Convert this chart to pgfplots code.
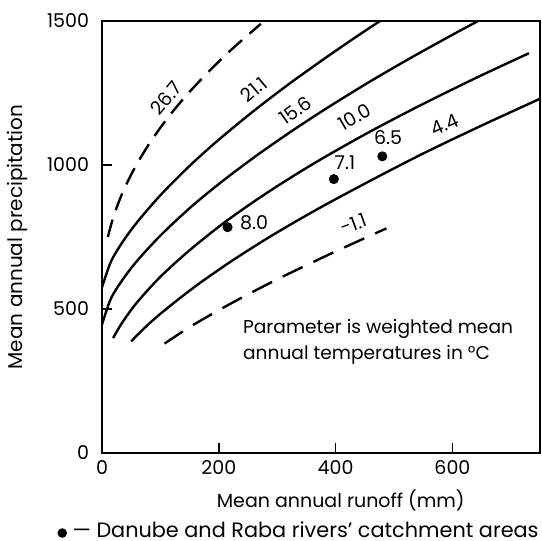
\documentclass[border=0pt]{standalone}
\usepackage{pgfplots}
\pgfplotsset{compat=1.18}
\usepackage{fontspec}
\setmainfont{Poppins}
\tikzset{lab/.style={font=\fontsize{9.5}{11}\selectfont}}
\begin{document}
\begin{tikzpicture}
\begin{axis}[
  scale only axis,
  width=219pt, height=216pt,
  xmin=0, xmax=750, ymin=0, ymax=1500,
  xtick={0,200,400,600}, ytick={0,500,1000,1500},
  xtick pos=bottom, ytick pos=left,
  tick align=inside, major tick length=5pt,
  axis line style={line width=0.8pt},
  tick style={line width=0.8pt, black},
  /pgf/number format/assume math mode=true,
  /pgf/number format/1000 sep={},
  ticklabel style={font=\fontsize{9.5}{11}\selectfont},
  yticklabel style={xshift=-3pt},
  xlabel={Mean annual runoff (mm)},
  ylabel={Mean annual precipitation},
  xlabel style={font=\fontsize{9.5}{11}\selectfont, at={(ticklabel cs:0.545)}, anchor=north, yshift=-1pt},
  ylabel style={font=\fontsize{10}{12}\selectfont, yshift=3pt},
  curve/.style={black, line width=1.2pt, smooth, tension=0.5},
]
% 26.7
\addplot[curve, dash pattern=on 9pt off 5pt] coordinates {(10,750) (20,823) (35,903) (55,986) (80,1071) (110,1157) (145,1243) (185,1329) (225,1407) (272,1490)};
% 21.1
\addplot[curve] coordinates {(0,575) (15,663) (35,732) (60,801) (100,895) (150,997) (200,1088) (260,1188) (320,1281) (380,1368) (430,1438) (476,1500)};
% 15.6
\addplot[curve] coordinates {(0,446) (15,535) (35,601) (60,667) (100,755) (150,850) (200,934) (260,1026) (320,1111) (380,1191) (450,1279) (520,1362) (590,1441) (644,1500)};
% 10.0
\addplot[curve] coordinates {(19,399) (35,454) (60,523) (100,612) (150,704) (210,801) (280,900) (360,1002) (450,1106) (540,1202) (640,1302) (731,1388)};
% 4.4
\addplot[curve] coordinates {(50,388) (80,448) (110,500) (160,579) (220,664) (290,754) (370,848) (460,946) (550,1040) (650,1137) (750,1230)};
% -1.1
\addplot[curve, dash pattern=on 11pt off 6pt] coordinates {(107,380) (150,437) (200,496) (250,551) (300,603) (350,652) (400,700) (450,746) (487,780)};
% catchment areas
\addplot[only marks, black, mark=*, mark size=2.3pt] coordinates {(215,784) (397,951) (480,1030)};

\node[lab, rotate=50] at (axis cs:110,1232) {26.7};
\node[lab, rotate=40] at (axis cs:260,1262) {21.1};
\node[lab, rotate=35] at (axis cs:331,1190) {15.6};
\node[lab, rotate=30] at (axis cs:433,1167) {10.0};
\node[lab, rotate=24] at (axis cs:587,1140) {4.4};
\node[lab, rotate=20] at (axis cs:431,795) {-1.1};
\node[lab, anchor=west, inner sep=0pt] at (axis cs:236,800) {8.0};
\node[lab] at (axis cs:416,1009) {7.1};
\node[lab] at (axis cs:490,1097) {6.5};
\node[anchor=west, align=left, inner sep=0pt, font=\fontsize{9.3}{13}\selectfont] at (axis cs:241,385)
  {Parameter is weighted mean\\annual temperatures in \textdegree C};

\coordinate (ll) at (rel axis cs:0,0);
\coordinate (ur) at (rel axis cs:1,1);
\end{axis}
\node[anchor=center, inner sep=0pt, font=\fontsize{10.4}{12}\selectfont] at ([xshift=98pt,yshift=-38.5pt]ll)
  {\tikz\fill (0,0) circle (2.4pt);\ --- Danube and Raba rivers' catchment areas};
\pgfresetboundingbox
\path[use as bounding box] ([xshift=-51pt,yshift=-43.5pt]ll) rectangle ([xshift=1pt,yshift=10.5pt]ur);
\end{tikzpicture}
\end{document}
